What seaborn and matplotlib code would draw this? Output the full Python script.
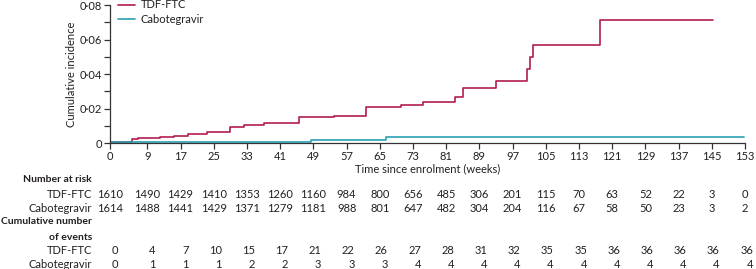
import matplotlib
matplotlib.use("Agg")
import matplotlib.pyplot as plt
import matplotlib.transforms as mtransforms
from matplotlib.ticker import MultipleLocator, FuncFormatter
import seaborn as sns
import pandas as pd

# step curves (weeks, cumulative incidence)
tdf_weeks = [0, 5.2, 6.8, 12.0, 15.5, 18.7, 23.3, 28.8, 32.4, 37.2, 45.6, 54.0,
             61.6, 70.0, 75.5, 83.2, 85.1, 93.0, 100.5, 101.2, 101.9, 118.0, 145.3]
tdf_inc = [0.0007, 0.0021, 0.0027, 0.0034, 0.0042, 0.0052, 0.0066, 0.0094, 0.0104,
           0.0118, 0.0149, 0.0158, 0.0207, 0.0222, 0.0239, 0.0265, 0.0319, 0.0361,
           0.0429, 0.0497, 0.0568, 0.0713, 0.0713]
cab_weeks = [0, 7.2, 48.4, 66.5, 152.8]
cab_inc = [0.0004, 0.0008, 0.0016, 0.0033, 0.0033]

tick_weeks = [0, 9, 17, 25, 33, 41, 49, 57, 65, 73, 81, 89, 97, 105, 113, 121, 129, 137, 145, 153]
risk_tdf = [1610, 1490, 1429, 1410, 1353, 1260, 1160, 984, 800, 656, 485, 306, 201, 115, 70, 63, 52, 22, 3, 0]
risk_cab = [1614, 1488, 1441, 1429, 1371, 1279, 1181, 988, 801, 647, 482, 304, 204, 116, 67, 58, 50, 23, 3, 2]
events_tdf = [0, 4, 7, 10, 15, 17, 21, 22, 26, 27, 28, 31, 32, 35, 35, 36, 36, 36, 36, 36]
events_cab = [0, 1, 1, 1, 2, 2, 3, 3, 3, 4, 4, 4, 4, 4, 4, 4, 4, 4, 4, 4]

arms = ["TDF-FTC", "Cabotegravir"]
colors = ["#b31d4d", "#2ba0b3"]

df = pd.concat([
    pd.DataFrame({"week": tdf_weeks, "incidence": tdf_inc, "arm": arms[0]}),
    pd.DataFrame({"week": cab_weeks, "incidence": cab_inc, "arm": arms[1]}),
])

sns.set_style("ticks")
plt.rcParams["font.family"] = ["Lato", "DejaVu Sans"]
plt.rcParams["font.size"] = 8
text_col = "#231f20"

fig = plt.figure(figsize=(7.56, 2.69), dpi=100)
W, H = 756, 269
ax = fig.add_axes([110 / W, 1 - 143 / H, (745 - 110) / W, (143 - 5) / H])

sns.lineplot(data=df, x="week", y="incidence", hue="arm", hue_order=arms,
             palette=colors, drawstyle="steps-post", estimator=None,
             linewidth=1.2, ax=ax)

ax.set_xlim(0, 153)
ax.set_ylim(0, 0.08)
ax.set_xticks(tick_weeks)
ax.yaxis.set_major_locator(MultipleLocator(0.02))
ax.yaxis.set_minor_locator(MultipleLocator(0.01))
ax.yaxis.set_major_formatter(FuncFormatter(lambda v, p: "0" if v == 0 else f"{v:.2f}".replace(".", "·")))
ax.tick_params(axis="both", which="both", length=4, width=0.9, color="#333333",
               labelsize=8, labelcolor=text_col, pad=2)
sns.despine(ax=ax)
for s in ["left", "bottom"]:
    ax.spines[s].set_color("#333333")
    ax.spines[s].set_linewidth(0.9)

ax.set_ylabel("Cumulative incidence", fontsize=8, color=text_col, labelpad=2)
ax.set_xlabel("Time since enrolment (weeks)", fontsize=8, color=text_col, labelpad=1)

handles, labels = ax.get_legend_handles_labels()
ax.legend(handles, labels, loc="upper left", bbox_to_anchor=(0.012, 1.04),
          frameon=False, fontsize=8, handlelength=1.6, handletextpad=0.5,
          labelspacing=0.3, borderpad=0, borderaxespad=0, labelcolor=text_col)

# number-at-risk table
trans = mtransforms.blended_transform_factory(ax.transData, fig.transFigure)
trans_r = mtransforms.offset_copy(trans, fig=fig, x=8, units="dots")
lab_x = 92 / W

def fy(py):
    return 1 - py / H

rows = [
    ("Number at risk", 180, True),
    ("TDF-FTC", 194, False),
    ("Cabotegravir", 209, False),
    ("Cumulative number", 222, True),
    ("of events", 237, True),
    ("TDF-FTC", 250, False),
    ("Cabotegravir", 264, False),
]
for label, py, bold in rows:
    fig.text(lab_x, fy(py), label, ha="right", va="center",
             fontsize=7.5 if bold else 8,
             fontweight="bold" if bold else "normal", color=text_col)

for wk, a, b in zip(tick_weeks, risk_tdf, risk_cab):
    ax.text(wk, fy(194), str(a), transform=trans, ha="center", va="center", fontsize=8, color=text_col, clip_on=False)
    ax.text(wk, fy(209), str(b), transform=trans, ha="center", va="center", fontsize=8, color=text_col, clip_on=False)
for wk, a, b in zip(tick_weeks, events_tdf, events_cab):
    ax.text(wk, fy(250), str(a), transform=trans_r, ha="right", va="center", fontsize=8, color=text_col, clip_on=False)
    ax.text(wk, fy(264), str(b), transform=trans_r, ha="right", va="center", fontsize=8, color=text_col, clip_on=False)

fig.savefig("out.png", dpi=100)
